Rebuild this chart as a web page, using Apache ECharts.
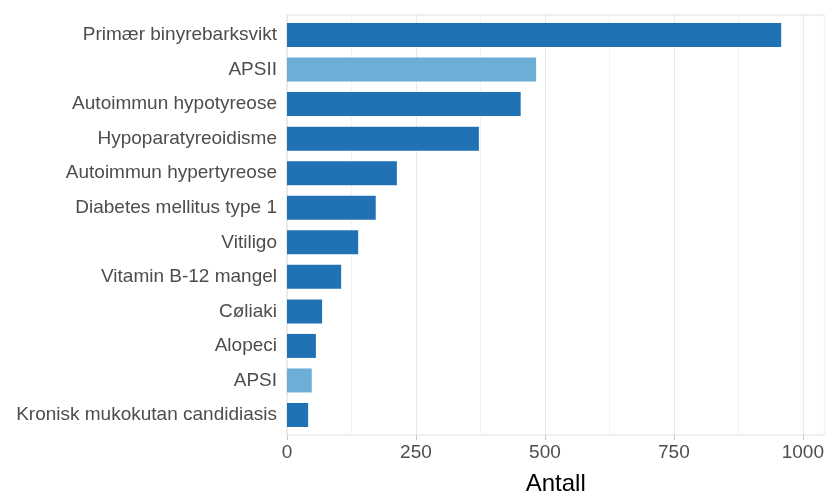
<!DOCTYPE html>
<html>
<head>
<meta charset="utf-8">
<script src="https://cdn.jsdelivr.net/npm/echarts@6/dist/echarts.min.js"></script>
<style>
html,body{margin:0;padding:0;background:#fff;}
#chart{width:826px;height:495px;}
</style>
</head>
<body>
<div id="chart"></div>
<script>
const categories = ['Primær binyrebarksvikt','APSII','Autoimmun hypotyreose','Hypoparatyreoidisme','Autoimmun hypertyreose','Diabetes mellitus type 1','Vitiligo','Vitamin B-12 mangel','Cøliaki','Alopeci','APSI','Kronisk mukokutan candidiasis'];
const values = [958, 483, 453, 372, 213, 172, 138, 105, 68, 56, 48, 41];
const highlighted = ['APSII','APSI'];
const xTicks = [0, 250, 500, 750, 1000];
const xMax = 1042;

const darkBlue = '#2171b5', lightBlue = '#6baed6';
const font = 'Liberation Sans, Arial, sans-serif';

const chart = echarts.init(document.getElementById('chart'), null, {renderer:'canvas'});
chart.setOption({
  animation:false,
  backgroundColor:'#fff',
  grid:[
    {left:287, right:1.5, top:15, bottom:60, show:true, borderColor:'#e2dfdb', borderWidth:1.2, backgroundColor:'transparent', containLabel:false, outerBoundsMode:'none'},
    {left:287, right:1.5, top:17.7, bottom:62.7, show:false, containLabel:false, outerBoundsMode:'none'}
  ],
  xAxis:[
    {gridIndex:0, type:'value', position:'top', min:0, max:xMax, interval:125,
     axisLine:{show:false}, axisTick:{show:false}, axisLabel:{show:false},
     splitLine:{show:true, lineStyle:{color:['#e9e9e9','#f3f3f3'], width:1}}},
    {gridIndex:0, type:'value', position:'bottom', min:0, max:xMax, interval:250,
     axisLine:{show:false},
     axisTick:{show:true, length:5, customValues:xTicks, lineStyle:{color:'#c8c8c8'}},
     axisLabel:{show:true, fontSize:19, color:'#4d4d4d', fontFamily:font, margin:8, customValues:xTicks,
       formatter: v => xTicks.includes(v) ? String(v) : ''},
     splitLine:{show:false},
     name:'Antall', nameLocation:'middle', nameGap:37,
     nameTextStyle:{fontSize:24, color:'#000', fontFamily:font}},
    {gridIndex:1, type:'value', min:0, max:xMax, show:false}
  ],
  yAxis:[
    {gridIndex:0, type:'value', show:false},
    {gridIndex:1, type:'category', inverse:true, data:categories,
     axisLine:{show:false}, axisTick:{show:false}, splitLine:{show:false},
     axisLabel:{fontSize:19, color:'#4d4d4d', fontFamily:font, margin:10}}
  ],
  series:[{
    type:'bar', xAxisIndex:2, yAxisIndex:1, barWidth:24,
    data: values.map((v,i)=>({value:v, itemStyle:{color: highlighted.includes(categories[i]) ? lightBlue : darkBlue}}))
  }]
});
</script>
</body>
</html>
